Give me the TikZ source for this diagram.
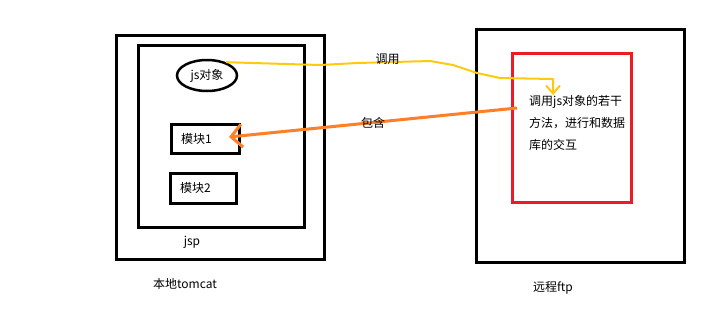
\documentclass[tikz,border=0pt]{standalone}
\usepackage{fontspec}
\newfontfamily\cjk{Noto Sans CJK SC}
\usepackage{tikz}
\usetikzlibrary{arrows.meta, shapes.geometric}
\definecolor{callyellow}{RGB}{255,201,14}
\definecolor{holdorange}{RGB}{255,127,39}
\definecolor{boxred}{RGB}{237,28,36}

\begin{document}
\begin{tikzpicture}[x=1pt, y=-1pt, font=\cjk\fontsize{12}{22}\selectfont,
    box/.style={draw, line width=3pt, inner sep=0pt},
    modbox/.style={box, align=left, inner xsep=10pt, minimum height=29pt}]
  \useasboundingbox (0,0) rectangle (723,309);
  % local tomcat
  \node[box, minimum width=208pt, minimum height=224pt] (tomcat) at (220,147) {};
  \node[box, minimum width=166pt, minimum height=182pt] (jsp) at (221,136) {};
  \node[ellipse, draw, line width=2.5pt, minimum width=60pt, minimum height=31pt, inner sep=0pt] (jsobj) at (207,75.5) {js对象};
  \node[modbox, text width=48pt] (mod1) at (205,139) {模块1};
  \node[modbox, text width=46pt, minimum height=30pt] (mod2) at (203,188) {模块2};
  \node (jsplabel) at (192,242) {jsp};
  \node (tomcatlabel) at (185,284) {本地tomcat};
  % remote ftp
  \node[box, minimum width=208pt, minimum height=233pt] (ftp) at (580,145.5) {};
  \node[box, draw=boxred, minimum width=119pt, minimum height=149pt] (ftpbox) at (571.5,127.5) {};
  \node[anchor=north west, inner sep=0pt, align=left] (methods) at (529,95.5) {调用js对象的若干\\方法，进行和数据\\库的交互};
  \node (ftplabel) at (553,288) {远程ftp};
  % connectors
  \coordinate (callend) at (553,95);
  \coordinate (holdstart) at (517,108);
  \coordinate (holdend) at (229,137);
  \draw[callyellow, line width=2pt, line join=round, -{Straight Barb[length=8pt, width=14pt]}]
    (jsobj.35) -- (320,65) -- (357,63)
    -- node[pos=0.42, black, yshift=3pt] (calllabel) {调用} (430,61)
    -- (453,65) -- (477,73) -- (500,78) -- (553,79) -- (callend);
  \draw[holdorange, line width=3pt, -{Straight Barb[length=11pt, width=23pt]}]
    (holdstart) -- node[black] (holdlabel) {包含} (holdend);
\end{tikzpicture}
\end{document}
